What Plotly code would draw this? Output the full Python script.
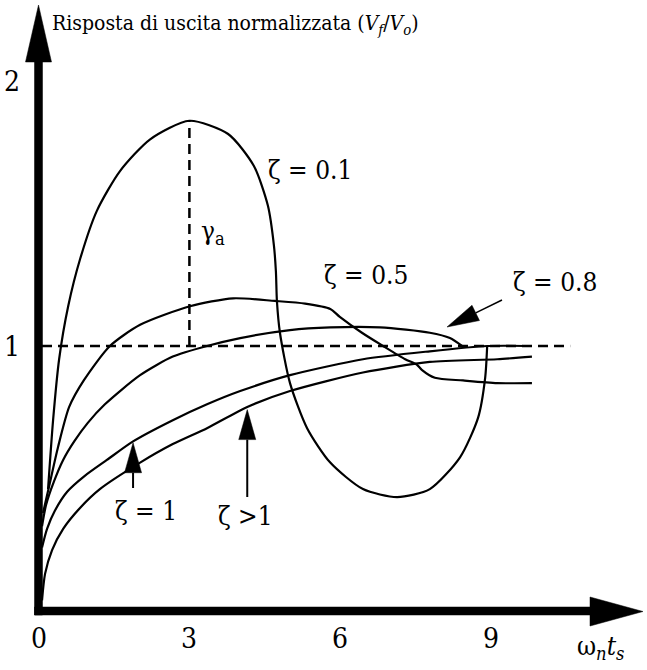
import numpy as np
import plotly.graph_objects as go

# Normalised output response V_f/V_o against w_n*t_s for several damping ratios
zeta01_x = [0.19, 0.29, 0.41, 0.59, 0.83, 1.16, 1.62, 2.22, 3.00, 3.77, 4.28, 4.56, 4.68,
             4.72, 4.74, 4.80, 5.00, 5.34, 5.80, 6.45, 7.13, 7.78, 8.38, 8.74, 8.88, 8.92]
zeta01_y = [0.46, 0.72, 0.95, 1.15, 1.33, 1.51, 1.66, 1.78, 1.85, 1.80, 1.68, 1.53, 1.38,
             1.28, 1.17, 1.05, 0.86, 0.69, 0.56, 0.46, 0.43, 0.46, 0.58, 0.73, 0.88, 1.00]

zeta05_x = [0.09, 0.21, 0.39, 0.61, 0.90, 1.42, 2.02, 3.01, 3.87, 4.70, 5.30, 5.80, 5.99,
             6.43, 6.85, 7.29, 7.52, 7.62, 7.88, 8.44, 9.12, 9.81]
zeta05_y = [0.37, 0.47, 0.62, 0.77, 0.87, 1.00, 1.08, 1.15, 1.18, 1.17, 1.16, 1.14, 1.11,
             1.05, 1.00, 0.95, 0.93, 0.91, 0.88, 0.87, 0.86, 0.86]

zeta08_x = [0.07, 0.15, 0.31, 0.49, 0.71, 0.98, 1.32, 2.02, 2.67, 3.35, 4.01, 5.00, 5.80,
             6.79, 7.78, 8.18, 8.42]
zeta08_y = [0.32, 0.40, 0.49, 0.57, 0.64, 0.71, 0.78, 0.89, 0.96, 1.00, 1.03, 1.06, 1.07,
             1.07, 1.05, 1.03, 1.00]

zeta1_x = [0.07, 0.17, 0.33, 0.57, 0.92, 1.36, 1.88, 2.67, 3.35, 4.01, 5.00, 6.45, 7.78, 8.92, 9.81]
zeta1_y = [0.24, 0.31, 0.38, 0.45, 0.51, 0.57, 0.64, 0.72, 0.78, 0.83, 0.89, 0.95, 0.98, 1.00, 1.00]

zetagt1_x = [0.07, 0.13, 0.27, 0.49, 0.83, 1.22, 2.02, 2.67, 3.35, 4.15, 5.00, 6.45, 7.78, 9.12, 9.81]
zetagt1_y = [0.04, 0.14, 0.23, 0.31, 0.39, 0.46, 0.56, 0.63, 0.69, 0.77, 0.83, 0.90, 0.94, 0.95, 0.96]

tick_x = [0, 3, 6, 9]
tick_y = [1, 2]
steady_state = 1.0
ref_line_end = 10.57
peak_time = 3.0

# ---- geometry of the drawing (pixels per unit, origin location) ----
W, H = 647, 670
OX, OY = 38.5, 611.0
SX, SY = 50.3, 265.0


def dx(px):
    return (px - OX) / SX


def dy(py):
    return (OY - py) / SY


def px_of(x):
    return OX + x * SX


def py_of(y):
    return OY - y * SY


FONT = "DejaVu Serif Condensed, DejaVu Serif"
INK = "black"

fig = go.Figure()

curves = [
    (zeta01_x, zeta01_y),
    (zeta05_x, zeta05_y),
    (zeta08_x, zeta08_y),
    (zeta1_x, zeta1_y),
    (zetagt1_x, zetagt1_y),
]
for cx, cy in curves:
    fig.add_trace(go.Scatter(
        x=cx, y=cy, mode="lines",
        line=dict(color=INK, width=2.2, shape="spline", smoothing=0.7),
        hoverinfo="skip", showlegend=False,
    ))

shapes = []

# steady-state reference and overshoot marker
shapes.append(dict(type="line", xref="x", yref="y",
                   x0=dx(42), y0=steady_state, x1=ref_line_end, y1=steady_state,
                   line=dict(color=INK, width=2.5, dash="10px,6px")))
peak = max(zeta01_y)
shapes.append(dict(type="line", xref="x", yref="y",
                   x0=peak_time, y0=steady_state, x1=peak_time, y1=peak,
                   line=dict(color=INK, width=2.5, dash="10px,6px")))


def poly(points_px):
    d = "M " + " L ".join(f"{dx(p[0]):.5f},{dy(p[1]):.5f}" for p in points_px) + " Z"
    return dict(type="path", xref="x", yref="y", path=d,
                fillcolor=INK, line=dict(color=INK, width=0.5), layer="above")


# thick axes with arrowheads
shapes.append(poly([(34.5, 615), (42.5, 615), (42.5, 58), (34.5, 58)]))
shapes.append(poly([(25.5, 62), (51.5, 62), (38.5, 5)]))
shapes.append(poly([(34.5, 607), (592, 607), (592, 615), (34.5, 615)]))
shapes.append(poly([(590, 597), (643, 611.5), (590, 626)]))


def pointer(tail, tip, head_len=30, half_w=8.5, width=2):
    """Arrow from tail to tip, both given in data units."""
    tx, ty = px_of(tail[0]), py_of(tail[1])
    hx, hy = px_of(tip[0]), py_of(tip[1])
    vx, vy = hx - tx, hy - ty
    n = np.hypot(vx, vy)
    ux, uy = vx / n, vy / n
    bx, by = hx - ux * head_len, hy - uy * head_len
    shapes.append(dict(type="line", xref="x", yref="y",
                       x0=tail[0], y0=tail[1], x1=dx(bx), y1=dy(by),
                       line=dict(color=INK, width=width)))
    shapes.append(poly([(bx - uy * half_w, by + ux * half_w),
                        (hx, hy),
                        (bx + uy * half_w, by - ux * half_w)]))


x_ptr1 = 1.88
pointer((x_ptr1, dy(488)), (x_ptr1, float(np.interp(x_ptr1, zeta1_x, zeta1_y)) - 0.005))
x_ptr2 = 4.15
pointer((x_ptr2, dy(497)), (x_ptr2, float(np.interp(x_ptr2, zetagt1_x, zetagt1_y)) - 0.01))
pointer((dx(502), dy(300)), (dx(447), dy(327)), head_len=32, half_w=8.5, width=1.5)

annotations = []


def label(text, cx, cy, size=26, xanchor="center"):
    annotations.append(dict(text=text, x=dx(cx), y=dy(cy), xref="x", yref="y",
                            showarrow=False, xanchor=xanchor, yanchor="middle",
                            font=dict(family=FONT, size=size, color=INK)))


label("ζ = 0.1", 310, 170)
label("γ<sub>a</sub>", 213, 232)
label("ζ = 0.5", 366, 275)
label("ζ = 0.8", 555, 282)
label("ζ = 1", 146, 511)
label("ζ >1", 245, 516)
label("ω<sub><i>n</i></sub><i>t</i><sub><i>s</i></sub>", 600, 647)

for t in tick_x:
    annotations.append(dict(text=str(t), x=t, y=0, xref="x", yref="y", showarrow=False,
                            yanchor="middle", yshift=-(638 - OY), xanchor="center",
                            font=dict(family=FONT, size=28, color=INK)))
for t in tick_y:
    annotations.append(dict(text=str(t), x=0, y=t, xref="x", yref="y", showarrow=False,
                            xanchor="center", xshift=-(OX - 12), yanchor="middle",
                            font=dict(family=FONT, size=28, color=INK)))

fig.update_layout(
    width=W, height=H,
    margin=dict(l=0, r=0, t=0, b=0),
    paper_bgcolor="white", plot_bgcolor="white",
    xaxis=dict(range=[dx(0), dx(W)], visible=False, fixedrange=True),
    yaxis=dict(range=[dy(H), dy(0)], visible=False, fixedrange=True),
    shapes=shapes,
    annotations=annotations,
    title=dict(text="Risposta di uscita normalizzata (<i>V</i><sub><i>f</i></sub>/<i>V</i><sub><i>o</i></sub>)",
               x=52 / W, xanchor="left", xref="paper",
               y=1 - 23 / H, yanchor="middle", yref="container",
               font=dict(family=FONT, size=21, color=INK)),
    showlegend=False,
)

fig.write_html("out.html")
